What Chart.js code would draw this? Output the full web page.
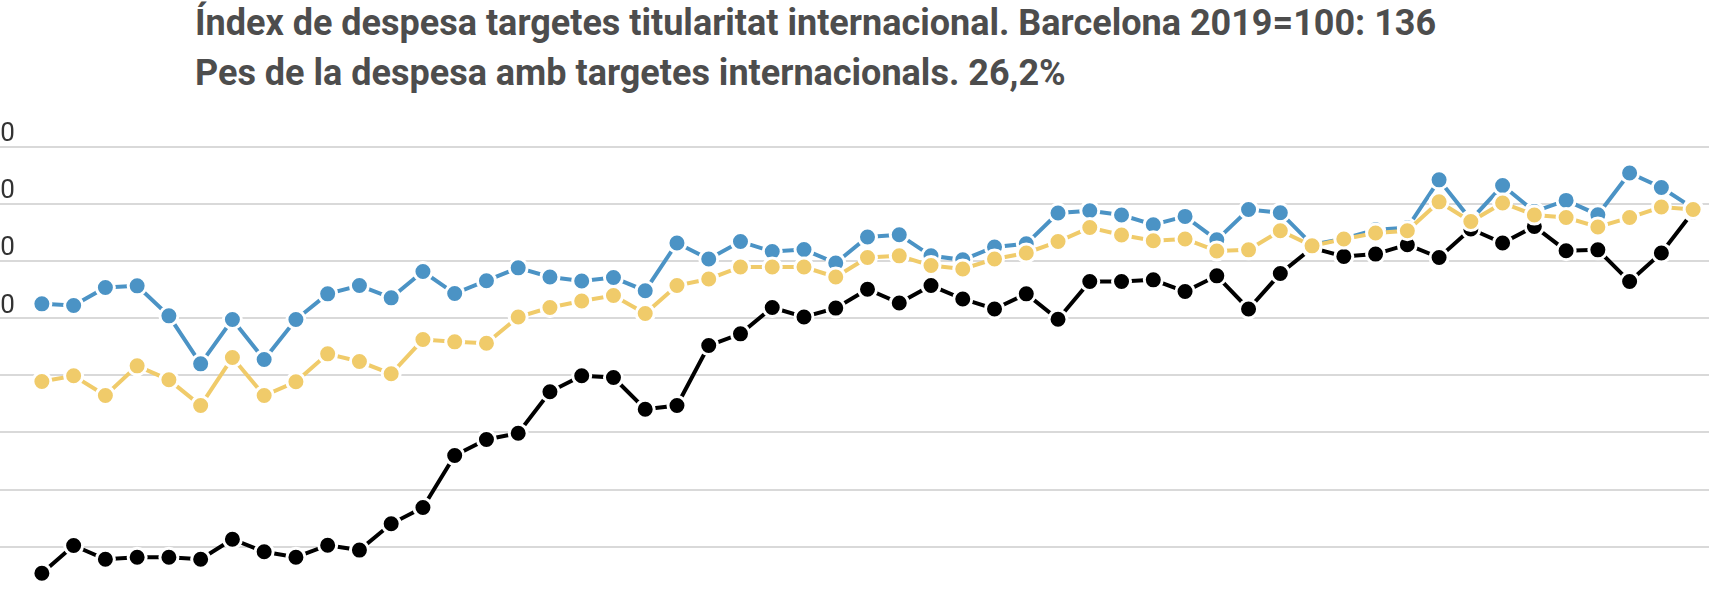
<!DOCTYPE html>
<html>
<head>
<meta charset="utf-8">
<script src="https://cdn.jsdelivr.net/npm/chart.js@4"></script>
<style>
  html, body { margin: 0; padding: 0; background: #fff; overflow: hidden; }
  body { width: 1736px; height: 602px; position: relative; }
  .titles {
    position: absolute; left: 195px; top: -2px;
    font-family: Roboto, sans-serif; font-weight: 700; font-size: 36px;
    line-height: 50px; color: #4d4d4d; white-space: nowrap;
  }
  #wrap { position: absolute; left: -29px; top: 100px; width: 1750px; height: 520px; }
</style>
</head>
<body>
<div class="titles">
  <div>Índex de despesa targetes titularitat internacional. Barcelona 2019=100: 136</div>
  <div>Pes de la despesa amb targetes internacionals. 26,2%</div>
</div>
<div id="wrap"><canvas id="chart"></canvas></div>
<script>
// months (x axis is hidden in the picture)
const monthNames = ["gen", "feb", "mar", "abr", "mai", "jun", "jul", "ago", "set", "oct", "nov", "des"];
const months = [];
for (let y = 2021; y <= 2025; y++) {
  for (const m of monthNames) {
    if (months.length < 53) months.push(m + " " + y);
  }
}

const yTicks = [0, 20, 40, 60, 80, 100, 120, 140, 160];

const blueValues = [105.0, 104.4, 110.7, 111.3, 100.8, 84.0, 99.5, 85.5, 99.5, 108.5,
  111.4, 107.1, 116.3, 108.6, 113.1, 117.6, 114.4, 113.0, 114.2, 109.6,
  126.3, 120.7, 126.8, 123.3, 124.0, 119.3, 128.4, 129.2, 121.8, 120.4,
  124.9, 126.0, 136.8, 137.6, 136.1, 132.7, 135.6, 127.4, 138.0, 136.9,
  125.7, 127.8, 130.9, 131.6, 148.4, 134.4, 146.4, 137.3, 141.2, 136.2,
  150.8, 145.7, 138.5];

const yellowValues = [77.8, 79.8, 72.9, 83.3, 78.4, 69.4, 86.2, 72.9, 77.7, 87.5,
  84.8, 80.5, 92.5, 91.7, 91.2, 100.4, 103.7, 106.0, 107.9, 101.6,
  111.4, 113.7, 117.9, 117.9, 117.9, 114.4, 121.2, 121.8, 118.4, 117.2,
  120.7, 122.8, 126.8, 131.7, 129.1, 127.1, 127.7, 123.5, 123.9, 130.6,
  125.3, 127.7, 129.8, 130.6, 140.7, 133.8, 140.3, 136.1, 135.2, 131.9,
  135.2, 138.9, 138.0];

const blackValues = [10.7, 20.4, 15.6, 16.3, 16.3, 15.6, 22.6, 18.2, 16.3, 20.5,
  18.8, 28.0, 33.7, 51.9, 57.5, 59.7, 74.2, 79.8, 79.2, 68.1,
  69.4, 90.4, 94.5, 103.7, 100.4, 103.5, 110.1, 105.3, 111.4, 106.7,
  103.2, 108.5, 99.6, 112.8, 112.8, 113.4, 109.3, 114.8, 103.2, 115.6,
  124.6, 121.6, 122.4, 125.7, 121.2, 131.2, 126.3, 132.1, 123.6, 123.9,
  112.8, 122.8, 137.2];

function series(label, data, color, order) {
  return {
    label,
    data,
    order,
    borderColor: color,
    backgroundColor: color,
    borderWidth: 4,
    pointRadius: 9,
    pointHoverRadius: 9,
    pointBorderWidth: 3,
    pointBorderColor: "#fff",
    pointBackgroundColor: color,
    tension: 0,
    clip: false
  };
}

new Chart(document.getElementById("chart"), {
  type: "line",
  data: {
    labels: months,
    datasets: [
      series("Targetes espanyoles", blueValues, "#4b93c5", 1),
      series("Total", yellowValues, "#f0cb6a", 0),
      series("Targetes internacionals", blackValues, "#000000", 2)
    ]
  },
  options: {
    responsive: true,
    maintainAspectRatio: false,
    animation: false,
    layout: { padding: { top: 46.7, bottom: 16.2, left: 0, right: 0 } },
    plugins: { legend: { display: false }, title: { display: false }, tooltip: { enabled: false } },
    scales: {
      x: { display: false, offset: true },
      y: {
        min: yTicks[0],
        max: yTicks[yTicks.length - 1],
        afterBuildTicks: (scale) => { scale.ticks = yTicks.map(v => ({ value: v })); },
        afterFit: (scale) => { scale.width = 55; },
        border: { display: false },
        grid: { color: "#d9d9d9", lineWidth: 2, drawTicks: true, tickLength: 80 },
        ticks: {
          crossAlign: "far",
          labelOffset: -12,
          padding: 0,
          color: "#333",
          font: { family: "Roboto", size: 26 }
        }
      }
    }
  }
});
</script>
</body>
</html>
